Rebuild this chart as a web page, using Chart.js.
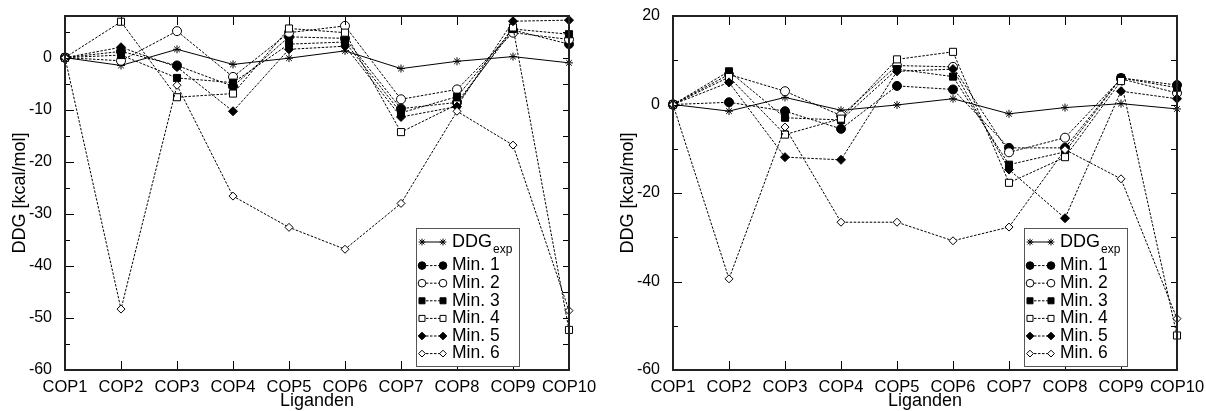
<!DOCTYPE html>
<html>
<head>
<meta charset="utf-8">
<script src="https://cdn.jsdelivr.net/npm/chart.js@4.4.1/dist/chart.umd.min.js"></script>
<style>
    html, body { margin: 0; padding: 0; background: #fff; }
    .panel { position: absolute; top: 0; width: 603px; height: 411px; }
    #leftPanel { left: 0; }
    #rightPanel { left: 603px; }
</style>
</head>
<body>
<div class="panel" id="leftPanel"><canvas id="leftChart" width="603" height="411"></canvas></div>
<div class="panel" id="rightPanel"><canvas id="rightChart" width="603" height="411"></canvas></div>
<script>
// 数据
const ligands = ["COP1", "COP2", "COP3", "COP4", "COP5", "COP6", "COP7", "COP8", "COP9", "COP10"];
const seriesNames = ["Min. 1", "Min. 2", "Min. 3", "Min. 4", "Min. 5", "Min. 6"];
const ddgExp = [0, -1.5, 1.6, -1.3, -0.1, 1.3, -2.1, -0.7, 0.2, -1.0];

// 左图
const leftMin1 = [0, 1.2, -1.5, -5.5, 4.0, 3.7, -9.8, -8.6, 5.3, 2.6];
const leftMin2 = [0, -0.6, 5.1, -3.7, 4.8, 6.1, -8.0, -6.1, 4.8, 3.5];
const leftMin3 = [0, 0.5, -3.9, -4.8, 2.6, 3.0, -10.6, -7.5, 5.5, 4.5];
const leftMin4 = [0, 6.9, -7.6, -6.9, 5.6, 4.8, -14.3, -9.0, 5.8, -52.3];
const leftMin5 = [0, 2.0, -1.8, -10.3, 1.6, 2.2, -11.4, -9.4, 7.0, 7.2];
const leftMin6 = [0, -48.3, -5.3, -26.6, -32.6, -36.8, -28.0, -10.3, -16.8, -48.6];
const leftYTicks = [0, -10, -20, -30, -40, -50, -60];

// 右图
const rightMin1 = [0, 0.5, -1.5, -5.5, 4.2, 3.4, -9.8, -9.8, 6.0, 4.4];
const rightMin2 = [0, 6.8, 3.0, -2.5, 8.8, 8.5, -10.8, -7.5, 5.8, 2.6];
const rightMin3 = [0, 7.5, -3.0, -3.5, 8.0, 6.3, -13.6, -10.7, 6.0, 3.8];
const rightMin4 = [0, 6.2, -6.8, -3.2, 10.2, 11.9, -17.7, -11.9, 5.3, -52.2];
const rightMin5 = [0, 5.0, -11.9, -12.5, 7.5, 8.0, -14.7, -25.7, 3.0, 1.3];
const rightMin6 = [0, -39.4, -5.1, -26.6, -26.6, -30.8, -27.7, -10.2, -16.8, -48.4];
const rightYTicks = [20, 0, -20, -40, -60];

// 样式：第一个是实验值，后面依次是 Min. 1 - 6
const STYLES = [
    { pointStyle: "star", filled: false, radius: 4, dash: [] },
    { pointStyle: "circle", filled: true, radius: 4.5, dash: [2.5, 1.5] },
    { pointStyle: "circle", filled: false, radius: 4.5, dash: [2.5, 1.5] },
    { pointStyle: "rect", filled: true, radius: 5, dash: [2.5, 1.5] },
    { pointStyle: "rect", filled: false, radius: 5, dash: [2.5, 1.5] },
    { pointStyle: "rectRot", filled: true, radius: 4.5, dash: [2.5, 1.5] },
    { pointStyle: "rectRot", filled: false, radius: 4, dash: [2.5, 1.5] }
];

const FONT = "'Liberation Sans', Arial, Helvetica, sans-serif";

// 自绘一个数据点（图例用）
function drawMarker(ctx, style, x, y, scale) {
    ctx.fillStyle = style.filled ? "#000" : "#fff";
    ctx.strokeStyle = "#000";
    ctx.lineWidth = 1;
    ctx.setLineDash([]);
    Chart.helpers.drawPoint(ctx, {
        pointStyle: style.pointStyle,
        radius: style.radius * scale,
        borderWidth: 1,
        rotation: 0
    }, x, y);
}

// 刻度、边框、图例、坐标轴标题
const framePlugin = {
    id: "frame",
    afterDatasetsDraw(chart, args, opts) {
        const { ctx, chartArea: a, scales } = chart;
        const xs = scales.x;
        const ys = scales.y;

        ctx.save();
        ctx.strokeStyle = "#000";
        ctx.lineWidth = 1;
        ctx.setLineDash([]);
        ctx.beginPath();
        ligands.forEach((_, i) => {
            const px = Math.round(xs.getPixelForValue(i)) + 0.5;
            ctx.moveTo(px, a.bottom);
            ctx.lineTo(px, a.bottom - 9);
            ctx.moveTo(px, a.top);
            ctx.lineTo(px, a.top + 9);
        });
        const step = opts.minorStep;
        for (let v = Math.ceil(ys.min / step) * step; v <= ys.max; v += step) {
            const py = Math.round(ys.getPixelForValue(v)) + 0.5;
            const major = opts.majorTicks.includes(v);
            ctx.moveTo(a.left, py);
            ctx.lineTo(a.left + (major ? 9 : 5), py);
            ctx.moveTo(a.right, py);
            ctx.lineTo(a.right - 6, py);
        }
        ctx.stroke();

        // 边框
        ctx.lineWidth = 2;
        ctx.strokeStyle = "#222";
        ctx.strokeRect(a.left, a.top, a.right - a.left, a.bottom - a.top);

        // 图例
        const boxRight = a.right - 50;
        const boxLeft = boxRight - 103;
        const boxBottom = a.bottom - 4;
        const boxTop = boxBottom - 138;
        ctx.fillStyle = "#fff";
        ctx.fillRect(boxLeft, boxTop, boxRight - boxLeft, boxBottom - boxTop);
        ctx.lineWidth = 1;
        ctx.strokeStyle = "#555";
        ctx.strokeRect(boxLeft + 0.5, boxTop + 0.5, boxRight - boxLeft, boxBottom - boxTop);

        chart.data.datasets.forEach((ds, i) => {
            const style = STYLES[i];
            const cy = boxTop + 14 + (i === 0 ? 0 : 6 + i * 17.6);
            const x0 = boxLeft + 6;
            const x1 = boxLeft + 27;
            ctx.strokeStyle = "#000";
            ctx.lineWidth = 1;
            ctx.setLineDash(style.dash);
            ctx.beginPath();
            ctx.moveTo(x0, cy);
            ctx.lineTo(x1, cy);
            ctx.stroke();
            drawMarker(ctx, style, x0, cy, 0.85);
            drawMarker(ctx, style, x1, cy, 0.85);

            ctx.fillStyle = "#000";
            ctx.textAlign = "left";
            ctx.textBaseline = "middle";
            if (i === 0) {
                ctx.font = "18px " + FONT;
                ctx.fillText("DDG", x1 + 9, cy);
                const w = ctx.measureText("DDG").width;
                ctx.font = "12px " + FONT;
                ctx.fillText("exp", x1 + 9 + w + 1, cy + 8);
            } else {
                ctx.font = "17.5px " + FONT;
                ctx.fillText(ds.label, x1 + 9, cy);
            }
        });

        // 坐标轴标题
        ctx.fillStyle = "#000";
        ctx.font = "18px " + FONT;
        ctx.textAlign = "center";
        ctx.textBaseline = "middle";
        ctx.fillText("Liganden", (a.left + a.right) / 2, 401);
        ctx.translate(a.left - 45, (a.top + a.bottom) / 2);
        ctx.rotate(-Math.PI / 2);
        ctx.fillText("DDG [kcal/mol]", 0, 0);
        ctx.restore();
    }
};

/**
 * 创建一个面板
 * @param {string} canvasId - 画布 id
 * @param {Array} minSeries - Min. 1 - 6 的数据
 * @param {Object} axis - y 轴范围和刻度
 */
function createPanel(canvasId, minSeries, axis) {
    const allSeries = [ddgExp].concat(minSeries);
    const labels = ["DDG_exp"].concat(seriesNames);

    const datasets = allSeries.map((data, i) => {
        const style = STYLES[i];
        return {
            label: labels[i],
            data: data,
            borderColor: "#000",
            borderWidth: 1,
            borderDash: style.dash,
            pointStyle: style.pointStyle,
            pointRadius: style.radius,
            pointHoverRadius: style.radius,
            pointBackgroundColor: style.filled ? "#000" : "#fff",
            pointBorderColor: "#000",
            pointBorderWidth: 1,
            tension: 0,
            fill: false,
            clip: false,
            order: allSeries.length - 1 - i
        };
    });

    const ctx = document.getElementById(canvasId).getContext("2d");
    return new Chart(ctx, {
        type: "line",
        data: { labels: ligands, datasets: datasets },
        options: {
            responsive: false,
            animation: false,
            devicePixelRatio: 1,
            layout: { padding: { top: 16, right: axis.padRight, left: 0, bottom: 0 } },
            plugins: {
                legend: { display: false },
                tooltip: { enabled: false },
                frame: { minorStep: axis.minorStep, majorTicks: axis.ticks }
            },
            scales: {
                x: {
                    type: "category",
                    offset: false,
                    grid: { display: false },
                    border: { display: false },
                    ticks: {
                        autoSkip: false,
                        maxRotation: 0,
                        padding: 0,
                        color: "#000",
                        font: { family: FONT, size: 16.5 }
                    },
                    afterFit: scale => { scale.height = 41; }
                },
                y: {
                    min: axis.min,
                    max: axis.max,
                    grid: { display: false },
                    border: { display: false },
                    afterBuildTicks: scale => {
                        scale.ticks = axis.ticks.map(v => ({ value: v }));
                    },
                    ticks: {
                        padding: 5,
                        color: "#000",
                        font: { family: FONT, size: 16 }
                    },
                    afterFit: scale => { scale.width = axis.width; }
                }
            }
        },
        plugins: [framePlugin]
    });
}

createPanel("leftChart",
    [leftMin1, leftMin2, leftMin3, leftMin4, leftMin5, leftMin6],
    { min: -60, max: 8, ticks: leftYTicks, minorStep: 5, width: 65, padRight: 34 });

createPanel("rightChart",
    [rightMin1, rightMin2, rightMin3, rightMin4, rightMin5, rightMin6],
    { min: -60, max: 20, ticks: rightYTicks, minorStep: 10, width: 70, padRight: 29 });
</script>
</body>
</html>
